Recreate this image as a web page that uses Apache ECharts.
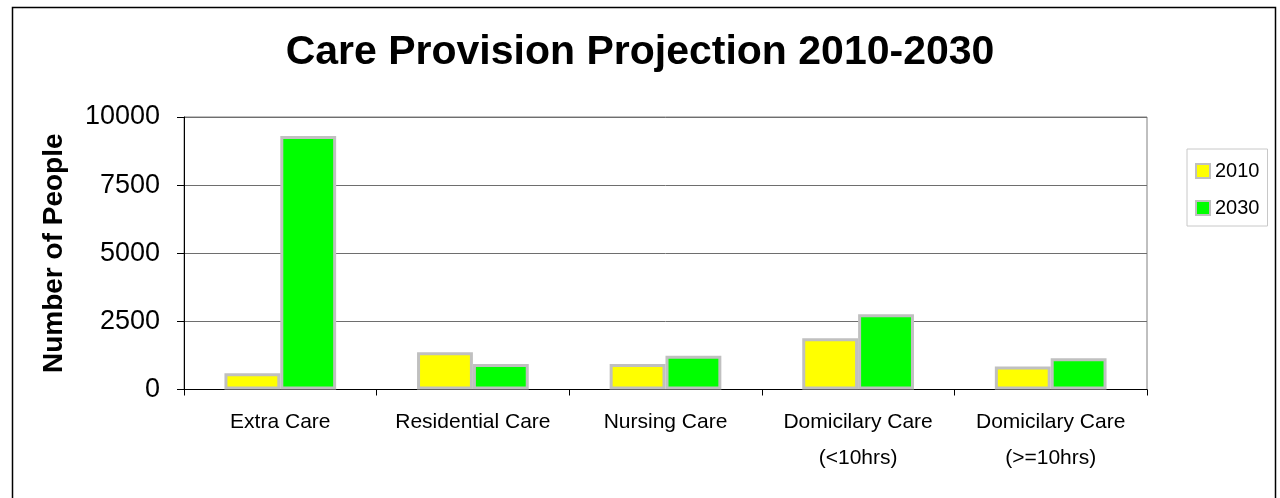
<!DOCTYPE html>
<html>
<head>
<meta charset="utf-8">
<title>Care Provision Projection 2010-2030</title>
<script src="https://cdn.jsdelivr.net/npm/echarts@6/dist/echarts.min.js"></script>
<style>
  html, body { margin: 0; padding: 0; background: #fff; }
  #chart { width: 1280px; height: 498px; }
</style>
</head>
<body>
<div id="chart"></div>
<script>
const categories = [
  'Extra Care',
  'Residential Care',
  'Nursing Care',
  'Domicilary Care\n(<10hrs)',
  'Domicilary Care\n(>=10hrs)'
]
const seriesNames = ['2010', '2030']
const values2010 = [600, 1370, 940, 1880, 840]
const values2030 = [9300, 940, 1240, 2760, 1150]
const yTicks = [0, 2500, 5000, 7500, 10000]

const font = '"Liberation Sans", Arial, sans-serif'

const chart = echarts.init(document.getElementById('chart'))

// 柱子样式：黄/绿填充，灰色粗边框
const barSeries = (name, data, color) => ({
  name: name,
  type: 'bar',
  data: data,
  barGap: '0%',
  barCategoryGap: '42%',
  itemStyle: { color: color, borderColor: '#c0c0c0', borderWidth: 3 }
})

chart.setOption({
  animation: false,
  textStyle: { fontFamily: font },
  graphic: [
    {
      type: 'rect',
      shape: { x: 12.5, y: 7.5, width: 1263, height: 520 },
      style: { fill: 'none', stroke: '#000', lineWidth: 1.5 },
      silent: true
    }
  ],
  title: {
    text: 'Care Provision Projection 2010-2030',
    left: 'center',
    top: 27,
    textStyle: { fontSize: 41, fontWeight: 'bold', color: '#000', fontFamily: font }
  },
  legend: {
    orient: 'vertical',
    left: 1187,
    top: 149,
    data: seriesNames,
    icon: 'rect',
    itemWidth: 14,
    itemHeight: 14,
    itemGap: 17,
    padding: [12, 8, 8, 8],
    borderColor: '#c8c8c8',
    borderWidth: 1,
    itemStyle: { borderColor: '#c0c0c0', borderWidth: 2 },
    textStyle: { fontSize: 20, color: '#000', fontFamily: font }
  },
  grid: {
    left: 184,
    right: 133,
    top: 117,
    bottom: 108.5,
    show: true,
    borderColor: '#808080',
    borderWidth: 1
  },
  xAxis: {
    type: 'category',
    data: categories,
    axisLine: { lineStyle: { color: '#000', width: 1 } },
    axisTick: { show: true, length: 6, lineStyle: { color: '#000' } },
    axisLabel: { interval: 0, fontSize: 21, color: '#000', lineHeight: 36, margin: 15, fontFamily: font }
  },
  yAxis: {
    type: 'value',
    min: yTicks[0],
    max: yTicks[yTicks.length - 1],
    interval: 2500,
    name: 'Number of People',
    nameLocation: 'middle',
    nameGap: 116,
    nameTextStyle: { fontSize: 28, fontWeight: 'bold', color: '#000', fontFamily: font },
    axisLine: { show: true, lineStyle: { color: '#000', width: 1 } },
    axisTick: { show: true, length: 7, lineStyle: { color: '#000' } },
    axisLabel: { fontSize: 27, color: '#000', margin: 24, fontFamily: font, formatter: v => String(v) },
    splitLine: { lineStyle: { color: '#6e6e6e', width: 1 } }
  },
  series: [
    barSeries(seriesNames[0], values2010, '#ffff00'),
    barSeries(seriesNames[1], values2030, '#00ff00')
  ]
})
</script>
</body>
</html>
